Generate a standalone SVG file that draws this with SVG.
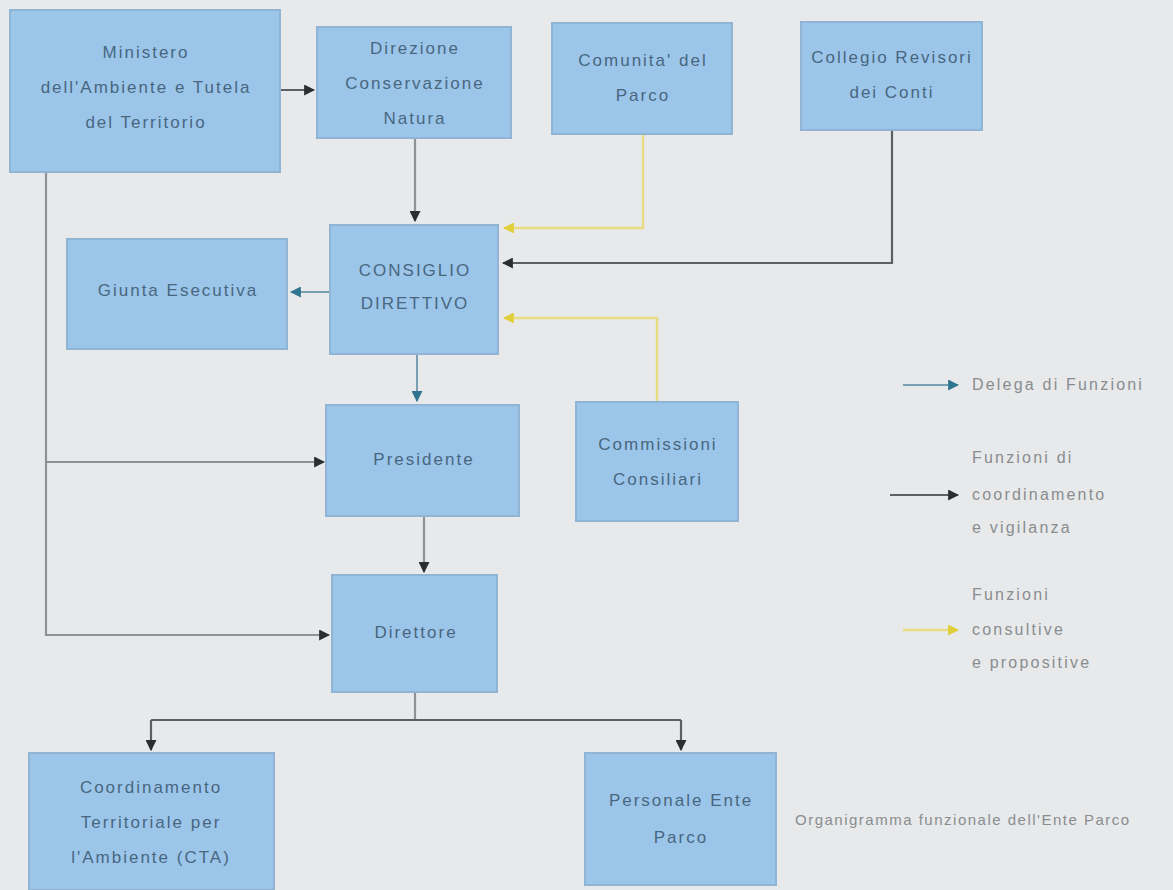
<svg xmlns="http://www.w3.org/2000/svg" width="1173" height="890" viewBox="0 0 1173 890">
<defs>
<style>
.box{fill:#9cc5ea;stroke:#8fb4d4;stroke-width:2}
.t{font-family:"Liberation Sans",Arial,sans-serif;font-size:17px;letter-spacing:2px;fill:#48677f;text-anchor:middle}
.lg{font-family:"Liberation Sans",Arial,sans-serif;font-size:16px;letter-spacing:2.2px;fill:#8a8d90}
.k{fill:none;stroke:#5c5f63;stroke-width:2.2}
.kg{fill:none;stroke:#8e9296;stroke-width:2.2}
.b{fill:none;stroke:#7a9fb3;stroke-width:2}
.y{fill:none;stroke:#e9dc82;stroke-width:2.4}
</style>
<marker id="ak" viewBox="0 0 10 10" refX="9" refY="5" markerUnits="userSpaceOnUse" markerWidth="11" markerHeight="11" orient="auto"><path d="M0,0 L10,5 L0,10 z" fill="#2b2e31"/></marker>
<marker id="ab" viewBox="0 0 10 10" refX="9" refY="5" markerUnits="userSpaceOnUse" markerWidth="11" markerHeight="11" orient="auto"><path d="M0,0 L10,5 L0,10 z" fill="#2f7590"/></marker>
<marker id="ay" viewBox="0 0 10 10" refX="9" refY="5" markerUnits="userSpaceOnUse" markerWidth="11" markerHeight="11" orient="auto"><path d="M0,0 L10,5 L0,10 z" fill="#e0cf3a"/></marker>
</defs>
<rect width="1173" height="890" fill="#e7e9ea"/>

<g id="connectors">
<path class="k" d="M281 90 H314" marker-end="url(#ak)"/>
<path class="kg" d="M415 138 V221" marker-end="url(#ak)"/>
<path class="k" d="M892 130 V263 H503" marker-end="url(#ak)"/>
<path class="kg" d="M46 172 V635 H329" marker-end="url(#ak)"/>
<path class="kg" d="M46 462 H324" marker-end="url(#ak)"/>
<path class="kg" d="M424 516 V572" marker-end="url(#ak)"/>
<path class="kg" d="M415 692 V720"/>
<path class="k" d="M151 720 H681"/>
<path class="k" d="M151 720 V750" marker-end="url(#ak)"/>
<path class="k" d="M681 720 V750" marker-end="url(#ak)"/>
<path class="b" d="M330 292 H291" marker-end="url(#ab)"/>
<path class="b" d="M417 354 V401" marker-end="url(#ab)"/>
<path class="y" d="M643 134 V228 H504" marker-end="url(#ay)"/>
<path class="y" d="M657 402 V318 H504" marker-end="url(#ay)"/>
</g>

<g id="ministero"><rect class="box" x="10" y="10" width="270" height="162"/>
<text class="t" x="146" y="58">Ministero</text><text class="t" x="146" y="93">dell'Ambiente e Tutela</text><text class="t" x="146" y="128">del Territorio</text></g>

<g id="direzione"><rect class="box" x="317" y="27" width="194" height="111"/>
<text class="t" x="415" y="54">Direzione</text><text class="t" x="415" y="89">Conservazione</text><text class="t" x="415" y="124">Natura</text></g>

<g id="comunita"><rect class="box" x="552" y="23" width="180" height="111"/>
<text class="t" x="643" y="66">Comunita' del</text><text class="t" x="643" y="101">Parco</text></g>

<g id="collegio"><rect class="box" x="801" y="22" width="181" height="108"/>
<text class="t" x="892" y="63">Collegio Revisori</text><text class="t" x="892" y="98">dei Conti</text></g>

<g id="giunta"><rect class="box" x="67" y="239" width="220" height="110"/>
<text class="t" x="178" y="296">Giunta Esecutiva</text></g>

<g id="consiglio"><rect class="box" x="330" y="225" width="168" height="129"/>
<text class="t" x="415" y="276">CONSIGLIO</text><text class="t" x="415" y="309">DIRETTIVO</text></g>

<g id="presidente"><rect class="box" x="326" y="405" width="193" height="111"/>
<text class="t" x="424" y="465">Presidente</text></g>

<g id="commissioni"><rect class="box" x="576" y="402" width="162" height="119"/>
<text class="t" x="658" y="450">Commissioni</text><text class="t" x="658" y="485">Consiliari</text></g>

<g id="direttore"><rect class="box" x="332" y="575" width="165" height="117"/>
<text class="t" x="416" y="638">Direttore</text></g>

<g id="cta"><rect class="box" x="29" y="753" width="245" height="137"/>
<text class="t" x="151" y="793">Coordinamento</text><text class="t" x="151" y="828">Territoriale per</text><text class="t" x="151" y="863">l'Ambiente (CTA)</text></g>

<g id="personale"><rect class="box" x="585" y="753" width="191" height="132"/>
<text class="t" x="681" y="806">Personale Ente</text><text class="t" x="681" y="843">Parco</text></g>

<g id="legend">
<path class="b" d="M903 385 H958" marker-end="url(#ab)"/>
<text class="lg" x="972" y="390">Delega di Funzioni</text>
<path class="k" d="M890 495 H958" marker-end="url(#ak)"/>
<text class="lg" x="972" y="463">Funzioni di</text>
<text class="lg" x="972" y="500">coordinamento</text>
<text class="lg" x="972" y="533">e vigilanza</text>
<path class="y" d="M903 630 H958" marker-end="url(#ay)"/>
<text class="lg" x="972" y="600">Funzioni</text>
<text class="lg" x="972" y="635">consultive</text>
<text class="lg" x="972" y="668">e propositive</text>
</g>

<text class="lg" x="795" y="825" style="font-size:15px;letter-spacing:1.5px">Organigramma funzionale dell'Ente Parco</text>
</svg>
